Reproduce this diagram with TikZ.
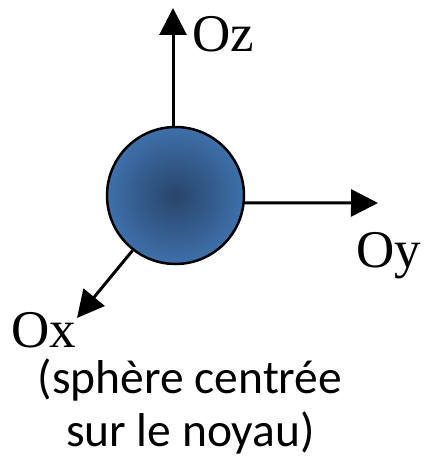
\documentclass[tikz,border=0pt]{standalone}
\usepackage{fontspec}
\setmainfont{Liberation Serif}
\newfontfamily\calibrifont{Carlito}
\usetikzlibrary{arrows.meta}
\definecolor{sphereedge}{RGB}{62,112,170}
\definecolor{spherecore}{RGB}{40,68,106}
\tikzset{
  axis/.style={line width=3pt, -{Triangle[length=27pt,width=27pt]}},
  axlabel/.style={inner sep=0pt, font=\fontsize{53}{60}\selectfont},
  note/.style={inner sep=0pt, anchor=base, font=\calibrifont\fontsize{47.5}{55}\selectfont}
}
\begin{document}
\begin{tikzpicture}[x=1pt,y=-1pt]
\useasboundingbox (0,0) rectangle (424,460);
\node[circle, draw, line width=2.5pt, minimum size=137pt, inner sep=0pt,
      inner color=spherecore, outer color=sphereedge] (s) at (175.5,195.5) {};
\coordinate (ztip) at (173,8);
\coordinate (ytip) at (378,203);
\coordinate (xtip) at (77,318);
\draw[axis] (s.north -| ztip) -- (ztip);
\draw[axis] (s.-6) -- (ytip);
\draw[axis] (s.232) -- (xtip);
\node[axlabel, anchor=base west] (oz) at (192,52) {Oz};
\node[axlabel, anchor=base west] (oy) at (356,267) {Oy};
\node[axlabel, anchor=base west] (ox) at (11,347) {Ox};
\node[note] (l1) at (190,393) {(sphère centrée};
\node[note] (l2) at (190.5,446) {sur le noyau)};
\end{tikzpicture}
\end{document}
